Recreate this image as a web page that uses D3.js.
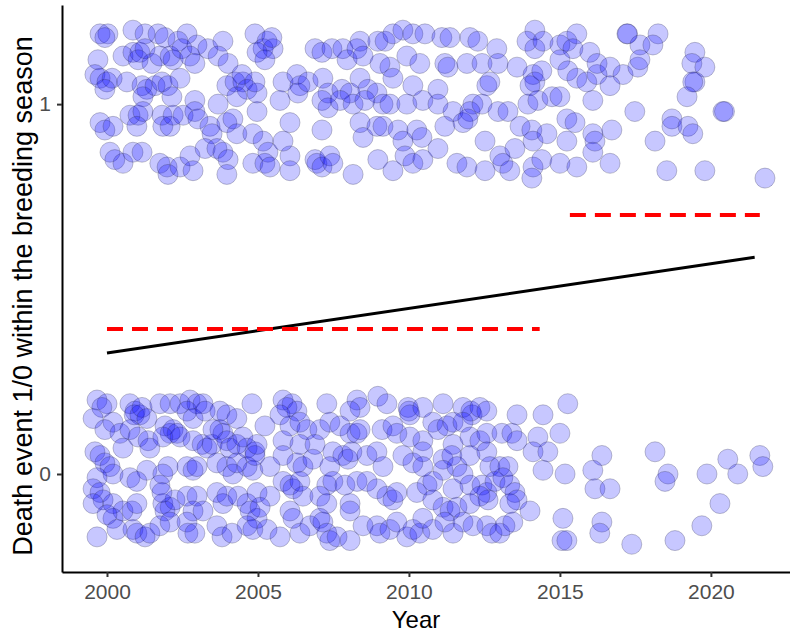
<!DOCTYPE html>
<html>
<head>
<meta charset="utf-8">
<script src="https://cdn.jsdelivr.net/npm/d3@7/dist/d3.min.js"></script>
<style>
  html, body { margin: 0; padding: 0; background: #fff; }
  svg { display: block; font-family: "Liberation Sans", Arial, sans-serif; }
</style>
</head>
<body>
<svg id="chart" width="790" height="634"></svg>
<script>
// Individuals with a death event (outcome 1), jittered year / outcome
const deathPoints = [
  [1999.77,1.19],[2000.03,1.19],[1999.93,1.18],[2000.86,1.20],[2001.26,1.19],[2001.69,1.19],[2001.92,1.18],[2002.65,1.19],
  [2002.35,1.17],[2002.98,1.16],[2003.34,1.15],[2003.84,1.17],[2004.90,1.19],[1999.70,1.12],[2000.53,1.13],[2000.86,1.14],
  [2001.09,1.14],[2001.03,1.12],[2001.26,1.15],[2001.49,1.11],[2001.75,1.13],[2002.09,1.13],[2002.19,1.12],[2002.48,1.15],
  [2002.75,1.13],[2002.91,1.11],[2003.68,1.13],[2004.01,1.11],[1999.60,1.08],[1999.77,1.07],[2000.00,1.06],[2000.17,1.07],
  [1999.93,1.04],[2000.66,1.06],[2001.16,1.05],[2001.32,1.04],[2001.19,1.02],[2001.59,1.05],[2001.82,1.06],[2002.02,1.05],
  [2002.15,1.02],[2002.42,1.07],[2003.97,1.05],[2004.24,1.06],[2004.50,1.06],[2004.47,1.08],[2004.64,1.04],[2004.30,1.02],
  [2002.91,1.01],[2003.68,1.00],[2004.97,0.98],[2004.97,1.03],[1999.77,0.95],[1999.93,0.93],[2000.20,0.94],[2000.76,0.97],
  [2001.03,0.97],[2001.19,0.98],[2000.99,0.94],[2001.82,0.97],[2001.85,0.94],[2002.09,0.94],[2002.19,0.97],[2002.52,0.97],
  [2002.91,0.98],[2003.01,0.96],[2003.41,0.94],[2003.48,0.92],[2003.97,0.95],[2004.17,0.96],[2004.30,0.92],[2004.83,0.92],
  [2000.10,0.87],[2000.26,0.85],[2000.53,0.84],[2000.86,0.87],[2001.16,0.87],[2001.75,0.84],[2001.99,0.83],[2002.02,0.81],
  [2002.42,0.83],[2002.75,0.86],[2002.85,0.82],[2003.25,0.88],[2003.64,0.88],[2003.84,0.87],[2004.01,0.85],[2003.97,0.81],
  [2004.83,0.84],
  [2005.30,1.17],[2005.17,1.15],[2005.50,1.15],[2005.46,1.18],[2004.97,1.14],[2005.23,1.12],[2006.89,1.15],[2007.12,1.14],
  [2007.45,1.15],[2007.81,1.15],[2007.95,1.12],[2008.38,1.17],[2008.28,1.15],[2008.48,1.13],[2008.97,1.17],[2009.21,1.17],
  [2009.47,1.19],[2009.80,1.20],[2010.13,1.19],[2009.93,1.13],[2010.36,1.11],[2009.37,1.10],[2009.04,1.11],[2004.90,1.06],
  [2005.83,1.06],[2006.29,1.08],[2006.39,1.05],[2006.32,1.03],[2006.66,1.06],[2007.15,1.07],[2007.32,1.03],[2007.78,1.04],
  [2008.05,1.03],[2008.38,1.07],[2008.64,1.04],[2008.94,1.03],[2009.14,1.00],[2009.37,1.00],[2009.47,1.07],[2009.93,1.00],
  [2010.13,1.05],[2005.73,1.01],[2007.12,1.01],[2007.32,0.99],[2007.72,1.01],[2008.15,1.00],[2008.54,1.01],[2010.46,1.01],
  [2006.06,0.95],[2007.12,0.93],[2008.38,0.95],[2008.48,0.91],[2008.94,0.94],[2009.14,0.94],[2009.64,0.93],[2009.80,0.90],
  [2010.26,0.93],[2010.43,0.91],[2005.17,0.90],[2005.33,0.87],[2005.23,0.84],[2005.40,0.83],[2006.06,0.86],[2006.06,0.82],
  [2006.89,0.85],[2006.95,0.84],[2007.12,0.83],[2007.38,0.86],[2007.48,0.84],[2008.15,0.81],[2008.97,0.85],[2009.47,0.82],
  [2009.87,0.86],[2010.13,0.84],[2010.46,0.85],[2005.83,0.90],
  [2010.53,1.19],[2011.09,1.18],[2011.36,1.18],[2012.02,1.18],[2012.28,1.17],[2012.91,1.15],[2014.17,1.20],[2013.91,1.17],
  [2014.17,1.15],[2014.44,1.17],[2015.00,1.16],[2015.23,1.17],[2015.56,1.19],[2015.43,1.15],[2015.99,1.14],[2011.19,1.11],
  [2011.29,1.10],[2011.92,1.11],[2012.42,1.11],[2012.95,1.11],[2013.58,1.10],[2014.11,1.08],[2014.17,1.06],[2014.40,1.09],
  [2015.00,1.12],[2015.26,1.09],[2015.56,1.07],[2015.89,1.06],[2016.23,1.08],[2012.58,1.05],[2012.68,1.06],[2014.01,1.05],
  [2010.96,1.04],[2010.96,1.00],[2011.46,0.98],[2012.12,1.00],[2012.02,0.98],[2012.42,1.00],[2012.95,0.98],[2013.28,0.98],
  [2013.94,1.00],[2014.27,1.01],[2014.74,1.02],[2015.00,1.02],[2015.23,0.96],[2015.50,0.95],[2016.09,1.01],[2011.19,0.94],
  [2011.79,0.95],[2011.95,0.96],[2012.52,0.90],[2013.68,0.94],[2014.07,0.93],[2014.11,0.90],[2014.57,0.92],[2015.23,0.90],
  [2016.09,0.92],[2016.16,0.90],[2010.96,0.88],[2011.59,0.84],[2011.92,0.83],[2012.52,0.82],[2013.01,0.86],[2013.11,0.84],
  [2013.34,0.82],[2013.51,0.88],[2014.11,0.83],[2014.40,0.85],[2014.07,0.80],[2015.00,0.84],[2015.56,0.83],[2016.09,0.87],
  [2017.22,1.19],[2017.24,1.19],[2018.25,1.19],[2017.65,1.16],[2018.08,1.16],[2016.23,1.11],[2016.66,1.10],[2017.09,1.08],
  [2017.58,1.10],[2017.65,1.12],[2016.66,1.05],[2017.48,0.98],[2019.47,1.14],[2019.37,1.11],[2019.80,1.10],[2019.47,1.06],
  [2019.40,1.06],[2019.21,1.02],[2020.40,0.98],[2020.45,0.98],[2018.71,0.96],[2018.71,0.94],[2019.24,0.94],[2019.40,0.92],
  [2018.15,0.90],[2016.72,0.93],[2016.66,0.84],[2018.54,0.82],[2019.80,0.82],[2021.79,0.80]
];

// Individuals without a death event (outcome 0), jittered year / outcome
const survivalPoints = [
  [1999.67,0.20],[2000.00,0.19],[1999.83,0.18],[2000.76,0.19],[2000.93,0.17],[2000.90,0.16],[2001.09,0.16],[2001.16,0.18],
  [2001.32,0.15],[2001.75,0.19],[2002.09,0.19],[2002.42,0.19],[2002.75,0.20],[2002.98,0.19],[2003.18,0.19],[2002.65,0.17],
  [2002.85,0.15],[2003.25,0.17],[2003.74,0.17],[2003.97,0.16],[2004.30,0.15],[2004.80,0.19],[1999.54,0.15],[2000.20,0.14],
  [1999.93,0.12],[2000.43,0.11],[2000.76,0.12],[2001.03,0.10],[2001.36,0.09],[2001.42,0.07],[2001.92,0.13],[2002.09,0.11],
  [2002.19,0.12],[2002.32,0.11],[2001.85,0.10],[2002.42,0.10],[2002.85,0.09],[2003.15,0.08],[2003.31,0.07],[2003.48,0.08],
  [2003.74,0.12],[2003.84,0.11],[2003.97,0.09],[2004.07,0.07],[2004.30,0.08],[2004.50,0.10],[2004.64,0.07],[2004.90,0.06],
  [1999.60,0.06],[1999.77,0.05],[2003.51,0.12],[2000.53,0.07],[1999.93,0.03],[2000.10,0.02],[2000.20,0.00],[1999.67,-0.01],
  [2000.76,-0.01],[2001.32,0.01],[2000.99,-0.02],[2002.02,0.02],[2001.85,0.00],[2001.75,-0.03],[2002.65,0.02],[2002.85,0.01],
  [2002.98,0.02],[2003.64,0.03],[2003.97,0.02],[2004.17,0.00],[2004.30,0.03],[2004.64,0.02],[2004.83,0.01],[2004.90,0.05],
  [1999.54,-0.04],[1999.77,-0.05],[1999.87,-0.07],[1999.54,-0.08],[2000.20,-0.08],[2000.53,-0.10],[2000.83,-0.10],[2000.99,-0.08],
  [2001.85,-0.08],[2002.09,-0.09],[2001.92,-0.10],[2002.25,-0.07],[2001.82,-0.05],[2002.65,-0.06],[2002.98,-0.06],[2002.85,-0.10],
  [2003.64,-0.05],[2003.84,-0.08],[2003.97,-0.06],[2004.34,-0.06],[2004.64,-0.08],[2004.74,-0.10],[2004.97,-0.12],[2003.18,-0.10],
  [2000.20,-0.12],[2000.00,-0.11],[2000.86,-0.15],[2000.99,-0.16],[2001.26,-0.17],[2001.42,-0.16],[2001.75,-0.14],[2002.09,-0.13],
  [2002.65,-0.13],[2002.68,-0.16],[2002.91,-0.16],[2003.64,-0.14],[2003.81,-0.17],[2004.14,-0.16],[2004.64,-0.14],[2004.83,-0.15],
  [1999.67,-0.17],[2000.33,-0.15],
  [2005.83,0.20],[2006.13,0.19],[2005.96,0.18],[2005.73,0.16],[2006.29,0.17],[2007.28,0.19],[2008.28,0.20],[2008.38,0.18],
  [2008.97,0.21],[2009.27,0.19],[2009.97,0.18],[2010.00,0.17],[2010.03,0.16],[2010.46,0.18],[2008.05,0.17],[2005.23,0.13],
  [2006.06,0.13],[2006.39,0.14],[2006.62,0.12],[2007.05,0.12],[2007.38,0.14],[2007.72,0.13],[2008.05,0.11],[2008.28,0.11],
  [2008.38,0.12],[2009.11,0.12],[2009.47,0.13],[2009.60,0.11],[2010.03,0.10],[2010.46,0.09],[2005.83,0.09],[2006.39,0.08],
  [2006.89,0.08],[2004.97,0.08],[2005.83,0.05],[2006.29,0.03],[2006.49,0.02],[2006.82,0.04],[2007.48,0.06],[2007.81,0.05],
  [2007.98,0.04],[2008.11,0.06],[2008.61,0.05],[2008.94,0.06],[2009.14,0.02],[2009.80,0.05],[2010.13,0.03],[2010.46,0.06],
  [2005.40,0.02],[2007.38,0.02],[2005.83,-0.02],[2006.06,-0.03],[2006.16,-0.04],[2006.39,-0.02],[2006.49,-0.06],[2007.28,-0.03],
  [2007.48,-0.02],[2007.88,-0.03],[2008.28,-0.02],[2008.61,-0.02],[2008.94,-0.04],[2009.27,-0.06],[2009.47,-0.07],[2009.60,-0.05],
  [2010.26,-0.05],[2010.60,-0.03],[2004.97,-0.05],[2005.40,-0.06],[2005.07,-0.09],[2007.05,-0.06],[2007.28,-0.08],[2008.05,-0.08],
  [2005.30,-0.15],[2005.73,-0.17],[2006.06,-0.10],[2006.16,-0.12],[2006.39,-0.16],[2006.72,-0.14],[2007.05,-0.12],[2007.15,-0.13],
  [2007.28,-0.16],[2007.38,-0.18],[2007.62,-0.17],[2008.05,-0.10],[2008.48,-0.14],[2008.94,-0.14],[2009.04,-0.16],[2009.37,-0.15],
  [2009.60,-0.13],[2009.93,-0.17],[2010.13,-0.15],[2010.36,-0.16],[2010.46,-0.12],[2008.05,-0.18],
  [2011.13,0.19],[2011.79,0.18],[2012.09,0.16],[2012.05,0.17],[2012.35,0.18],[2012.58,0.17],[2013.58,0.16],[2014.44,0.16],
  [2015.26,0.19],[2010.79,0.14],[2010.96,0.12],[2011.26,0.13],[2011.46,0.14],[2011.79,0.14],[2011.46,0.08],[2012.02,0.10],
  [2012.35,0.09],[2012.58,0.11],[2013.08,0.11],[2013.41,0.11],[2013.58,0.09],[2014.27,0.10],[2015.00,0.11],[2011.13,0.04],
  [2011.42,0.05],[2011.13,0.01],[2011.59,0.02],[2012.02,0.05],[2012.58,0.06],[2012.68,0.02],[2013.01,0.02],[2013.28,0.02],
  [2014.11,0.06],[2014.60,0.06],[2014.44,0.01],[2015.17,0.00],[2010.46,0.02],[2010.79,-0.02],[2011.79,0.00],[2011.46,-0.04],
  [2012.02,-0.03],[2012.42,-0.03],[2012.58,-0.05],[2012.85,-0.02],[2013.11,-0.01],[2013.34,-0.03],[2013.51,-0.05],[2013.58,-0.07],
  [2013.34,-0.08],[2012.62,-0.07],[2012.35,-0.06],[2010.79,-0.07],[2011.13,-0.09],[2011.36,-0.10],[2011.59,-0.09],[2012.02,-0.08],
  [2014.01,-0.10],[2010.79,-0.15],[2011.19,-0.13],[2011.46,-0.16],[2011.79,-0.13],[2012.12,-0.14],[2012.58,-0.14],[2012.75,-0.16],
  [2013.01,-0.16],[2013.18,-0.14],[2013.44,-0.13],[2015.10,-0.12],[2015.07,-0.18],[2015.23,-0.18],
  [2016.39,0.05],[2016.09,0.01],[2016.16,-0.04],[2016.66,-0.04],[2016.39,-0.13],[2016.32,-0.16],[2017.38,-0.19],[2018.15,0.06],
  [2018.58,0.00],[2018.48,-0.02],[2018.81,-0.18],[2019.87,0.00],[2020.30,-0.08],[2019.70,-0.14],[2020.56,0.04],[2020.89,0.00],
  [2021.62,0.05],[2021.72,0.02]
];

// Fitted trend across years
const trendYears = [2000.0, 2021.45];
const trendValues = [0.327, 0.586];

// Period means (before / after 2015)
const periodStart = [2000.0, 2015.33];
const periodEnd = [2014.33, 2021.62];
const periodMean = [0.392, 0.700];

// Axis ticks
const xTicks = [2000, 2005, 2010, 2015, 2020];
const yTicks = [0, 1];

const xTitle = "Year";
const yTitle = "Death event 1/0 within the breeding season";

const svg = d3.select("#chart");
const margin = { left: 62, bottom: 572, top: 5, right: 790 };

const x = d3.scaleLinear().domain([1998.51, 2022.62]).range([margin.left, margin.right]);
const y = d3.scaleLinear().domain([-0.265, 1.268]).range([margin.bottom, margin.top]);

// points
const pts = svg.append("g");
const drawPoints = data => pts.selectAll(null).data(data).enter().append("circle")
  .attr("cx", d => x(d[0])).attr("cy", d => y(d[1])).attr("r", 10)
  .attr("fill", "rgba(0,0,255,0.22)")
  .attr("stroke", "rgba(40,40,80,0.28)")
  .attr("stroke-width", 1);
drawPoints(deathPoints);
drawPoints(survivalPoints);

// trend line
const line = d3.line().x(d => x(d[0])).y(d => y(d[1]));
svg.append("path")
  .datum(trendYears.map((t, i) => [t, trendValues[i]]))
  .attr("d", line).attr("fill", "none").attr("stroke", "#000").attr("stroke-width", 3);

// period means
svg.append("g").selectAll("line").data(periodMean).enter().append("line")
  .attr("x1", (d, i) => x(periodStart[i])).attr("x2", (d, i) => x(periodEnd[i]))
  .attr("y1", d => y(d)).attr("y2", d => y(d))
  .attr("stroke", "#ff0000").attr("stroke-width", 4).attr("stroke-dasharray", "16,9");

// axes
const xAxis = svg.append("g").attr("transform", `translate(0,${margin.bottom})`)
  .call(d3.axisBottom(x).tickValues(xTicks).tickFormat(d3.format("d")).tickSize(5).tickSizeOuter(0).tickPadding(7));
const yAxis = svg.append("g").attr("transform", `translate(${margin.left},0)`)
  .call(d3.axisLeft(y).tickValues(yTicks).tickFormat(d3.format("d")).tickSize(5).tickSizeOuter(0).tickPadding(6));
[xAxis, yAxis].forEach(a => {
  a.select(".domain").attr("stroke", "#000").attr("stroke-width", 2);
  a.selectAll(".tick line").attr("stroke", "#333").attr("stroke-width", 2);
  a.selectAll(".tick text").attr("fill", "#4d4d4d").style("font-size", "21px")
   .style("font-family", "'Liberation Sans', Arial, sans-serif");
});

svg.append("text").attr("x", 416).attr("y", 628).attr("text-anchor", "middle")
  .style("font-size", "24px").attr("fill", "#000").text(xTitle);
svg.append("text").attr("transform", `translate(23,296) rotate(-90)`)
  .attr("text-anchor", "middle").attr("dominant-baseline", "central")
  .style("font-size", "27px").attr("fill", "#000").text(yTitle);
</script>
</body>
</html>
